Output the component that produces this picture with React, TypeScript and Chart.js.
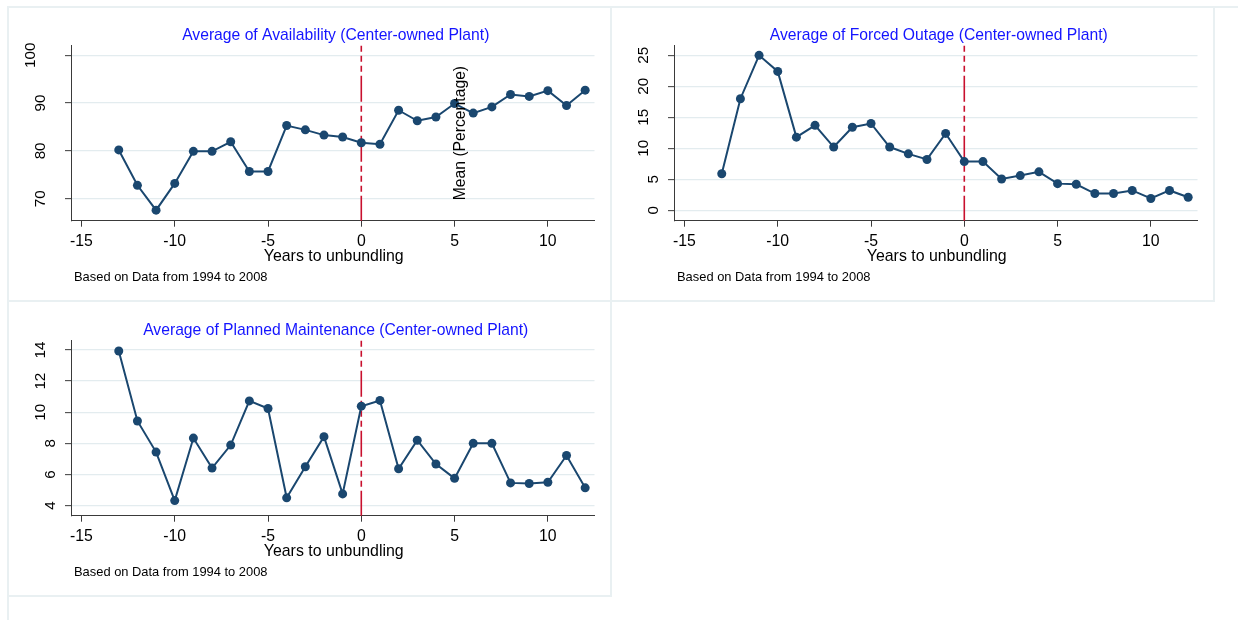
import React, { useEffect, useRef } from "react";
import { Chart, registerables } from "chart.js";

Chart.register(...registerables);

// ---------- data ----------
const years = [-13, -12, -11, -10, -9, -8, -7, -6, -5, -4, -3, -2, -1, 0, 1, 2, 3, 4, 5, 6, 7, 8, 9, 10, 11, 12];

const availability = [80.2, 72.8, 67.6, 73.2, 79.9, 79.9, 81.9, 75.7, 75.7, 85.3, 84.4, 83.3, 82.9, 81.7, 81.4, 88.5, 86.3, 87.1, 89.9, 87.9, 89.2, 91.8, 91.4, 92.6, 89.5, 92.7];

const forcedOutage = [5.9, 18.0, 25.0, 22.4, 11.8, 13.7, 10.2, 13.4, 14.0, 10.2, 9.1, 8.2, 12.4, 7.85, 7.85, 5.05, 5.6, 6.2, 4.3, 4.2, 2.7, 2.7, 3.2, 1.9, 3.2, 2.1];

const plannedMaintenance = [13.94, 9.44, 7.44, 4.32, 8.34, 6.41, 7.89, 10.73, 10.24, 4.5, 6.5, 8.43, 4.75, 10.39, 10.76, 6.37, 8.2, 6.67, 5.75, 8.0, 8.0, 5.46, 5.42, 5.5, 7.22, 5.14];

const xTickValues = [-15, -10, -5, 0, 5, 10];
const availabilityTicks = [70, 80, 90, 100];
const forcedOutageTicks = [0, 5, 10, 15, 20, 25];
const plannedMaintenanceTicks = [4, 6, 8, 10, 12, 14];

const unbundlingYear = 0;

const titleAvailability = "Average of Availability (Center-owned Plant)";
const titleForced = "Average of Forced Outage (Center-owned Plant)";
const titlePlanned = "Average of Planned Maintenance (Center-owned Plant)";
const xAxisTitle = "Years to unbundling";
const noteText = "Based on Data from 1994 to 2008";
const yAxisTitle = "Mean (Percentage)";

// ---------- styles ----------
const FONT = '"Liberation Sans", Arial, Helvetica, sans-serif';
const NAVY = "#1a476f";
const RED = "#c8102e";
const AXIS = "#3a3a3a";
const GRID = "#e3ecef";
const BORDER = "#e9f0f2";
const TITLE_BLUE = "#1414ff";
const DASH = [6, 4, 6, 4, 6, 4, 26, 4];

const CANVAS_W = 603;
const CANVAS_H = 294;
const PAD_TOP = 38.7;
const PLOT_H = 175;
const Y_AXIS_W = 63;
const PAD_RIGHT = 16.5;

type PanelSpec = {
  title: string;
  values: number[];
  yTicks: number[];
  yMin: number;
  yMax: number;
  showYTitle: boolean;
  left: number;
  top: number;
};

const panels: PanelSpec[] = [
  { title: titleAvailability, values: availability, yTicks: availabilityTicks, yMin: 65.4, yMax: 102.0, showYTitle: true, left: 8, top: 7 },
  { title: titleForced, values: forcedOutage, yTicks: forcedOutageTicks, yMin: -1.68, yMax: 26.55, showYTitle: false, left: 611, top: 7 },
  { title: titlePlanned, values: plannedMaintenance, yTicks: plannedMaintenanceTicks, yMin: 3.35, yMax: 14.6, showYTitle: false, left: 8, top: 302 },
];

function makeDecor(spec: PanelSpec) {
  return {
    id: "decor",
    beforeDatasetsDraw(chart: any) {
      const { ctx, chartArea, scales } = chart;
      const x0 = scales.x.getPixelForValue(unbundlingYear);
      ctx.save();
      ctx.strokeStyle = RED;
      ctx.lineWidth = 1.6;
      ctx.setLineDash(DASH);
      ctx.beginPath();
      ctx.moveTo(x0, chartArea.top);
      ctx.lineTo(x0, chartArea.bottom);
      ctx.stroke();
      ctx.restore();
    },
    afterDraw(chart: any) {
      const { ctx, chartArea, scales } = chart;
      const cx = (chartArea.left + chartArea.right) / 2;
      ctx.save();
      // title
      ctx.fillStyle = TITLE_BLUE;
      ctx.font = `15.7px ${FONT}`;
      ctx.textAlign = "center";
      ctx.textBaseline = "middle";
      ctx.fillText(spec.title, cx + 3, chartArea.top - 10.2);
      // x-axis title
      ctx.fillStyle = "#000";
      ctx.font = `15.9px ${FONT}`;
      ctx.fillText(xAxisTitle, cx + 1, chartArea.bottom + 36);
      // note
      ctx.font = `12.9px ${FONT}`;
      ctx.textAlign = "left";
      ctx.fillText(noteText, chartArea.left + 3, chartArea.bottom + 57);
      // rotated y tick labels
      ctx.font = `15.2px ${FONT}`;
      ctx.textAlign = "center";
      ctx.textBaseline = "middle";
      const yScale = scales.y;
      for (const t of yScale.ticks) {
        const label = String(t.value);
        const w = ctx.measureText(label).width;
        const px = chartArea.left - (10 + 1.2 * w);
        const py = yScale.getPixelForValue(t.value);
        ctx.save();
        ctx.translate(px, py);
        ctx.rotate(-Math.PI / 2);
        ctx.fillText(label, 0, 0);
        ctx.restore();
      }
      // misplaced y-axis title
      if (spec.showYTitle) {
        ctx.font = `15.7px ${FONT}`;
        ctx.textAlign = "left";
        ctx.textBaseline = "middle";
        const px = scales.x.getPixelForValue(5) + 6.5;
        const py = yScale.getPixelForValue(spec.yTicks[0]) + 1.5;
        ctx.save();
        ctx.translate(px, py);
        ctx.rotate(-Math.PI / 2);
        ctx.fillText(yAxisTitle, 0, 0);
        ctx.restore();
      }
      ctx.restore();
    },
  };
}

function Panel({ spec }: { spec: PanelSpec }) {
  const ref = useRef<HTMLCanvasElement | null>(null);
  useEffect(() => {
    if (!ref.current) return;
    const chart = new Chart(ref.current, {
      type: "line",
      data: {
        datasets: [
          {
            data: years.map((x, i) => ({ x, y: spec.values[i] })),
            borderColor: NAVY,
            backgroundColor: NAVY,
            pointBackgroundColor: NAVY,
            pointBorderColor: NAVY,
            pointBorderWidth: 0,
            pointRadius: 4.5,
            borderWidth: 2,
            tension: 0,
            fill: false,
          },
        ],
      },
      options: {
        responsive: false,
        animation: false,
        devicePixelRatio: 1,
        layout: { padding: { left: 0, top: PAD_TOP, right: PAD_RIGHT, bottom: 0 } },
        plugins: {
          legend: { display: false },
          tooltip: { enabled: false },
          title: { display: false },
        },
        scales: {
          x: {
            type: "linear",
            min: -15.56,
            max: 12.5,
            afterBuildTicks: (s: any) => {
              s.ticks = xTickValues.map((v) => ({ value: v }));
            },
            afterFit: (s: any) => {
              s.height = CANVAS_H - PAD_TOP - PLOT_H;
            },
            grid: {
              drawOnChartArea: false,
              drawTicks: true,
              tickLength: 6,
              tickColor: AXIS,
              tickWidth: 1,
            },
            border: { display: true, color: AXIS, width: 1 },
            ticks: {
              color: "#000",
              font: { family: FONT, size: 15.8 },
              padding: 5,
              maxRotation: 0,
              minRotation: 0,
              autoSkip: false,
              callback: (v: any) => String(v),
            },
          },
          y: {
            type: "linear",
            min: spec.yMin,
            max: spec.yMax,
            afterBuildTicks: (s: any) => {
              s.ticks = spec.yTicks.map((v) => ({ value: v }));
            },
            afterFit: (s: any) => {
              s.width = Y_AXIS_W;
            },
            grid: {
              color: GRID,
              lineWidth: 1.3,
              drawTicks: true,
              tickLength: 6,
              tickColor: AXIS,
              tickWidth: 1,
            },
            border: { display: true, color: AXIS, width: 1 },
            ticks: { display: false },
          },
        },
      } as any,
      plugins: [makeDecor(spec)],
    });
    return () => chart.destroy();
  }, [spec]);

  return (
    <canvas
      ref={ref}
      width={CANVAS_W}
      height={CANVAS_H}
      style={{ position: "absolute", left: spec.left, top: spec.top, width: CANVAS_W, height: CANVAS_H }}
    />
  );
}

function Line({ x, y, w, h }: { x: number; y: number; w: number; h: number }) {
  return <div style={{ position: "absolute", left: x, top: y, width: w, height: h, background: BORDER }} />;
}

export default function App() {
  return (
    <div style={{ position: "absolute", left: 0, top: 0, width: 1238, height: 620, background: "#fff", overflow: "hidden" }}>
      <Line x={7} y={6} w={1231} h={2} />
      <Line x={7} y={300} w={1208} h={2} />
      <Line x={7} y={595} w={605} h={2} />
      <Line x={7} y={6} w={2} h={614} />
      <Line x={610} y={6} w={2} h={591} />
      <Line x={1213} y={6} w={2} h={296} />
      {panels.map((p, i) => (
        <Panel key={i} spec={p} />
      ))}
    </div>
  );
}
